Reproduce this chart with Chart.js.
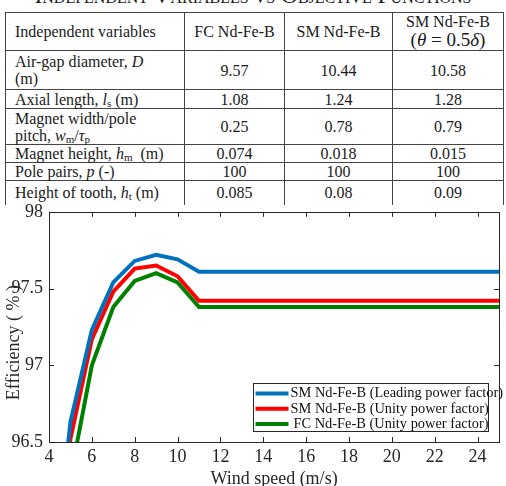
<!DOCTYPE html>
<html>
<head>
<meta charset="utf-8">
<script src="https://cdn.jsdelivr.net/npm/chart.js@4.4.1/dist/chart.umd.min.js"></script>
<style>
  html, body { margin: 0; padding: 0; background: #fff; }
  body { width: 506px; height: 486px; position: relative; overflow: hidden;
         font-family: "Liberation Serif", "Times New Roman", serif; color: #1a1a1a; }
  #caption { position: absolute; left: 0; top: -16px; width: 506px; text-align: center;
             font-size: 23.5px; line-height: 23.5px; font-variant: small-caps; }
  #params { position: absolute; left: 5px; top: 12px; border-collapse: collapse;
            table-layout: fixed; font-size: 16px; line-height: 17px; font-family: inherit; }
  #params td { border: 1px solid #444; padding: 0 9px; text-align: center; vertical-align: middle; }
  #params td.lbl { text-align: left; }
  #params tr.last td { border-bottom: none; }
  #params i { font-style: italic; }
  #params sub { font-size: 11px; vertical-align: -2px; line-height: 0; }
  .big { font-size: 19px; line-height: 20px; }
  #wrap { position: absolute; left: 0; top: 195px; width: 506px; height: 291px; }
</style>
</head>
<body>
<div id="caption">Independent Variables vs Objective Functions</div>
<table id="params">
  <colgroup><col style="width:179px"><col style="width:100px"><col style="width:108px"><col style="width:111px"></colgroup>
  <tr style="height:33px"><td class="lbl">Independent variables</td><td>FC Nd-Fe-B</td><td>SM Nd-Fe-B</td><td>SM Nd-Fe-B<br><span class="big">(<i>θ</i> = 0.5<i>δ</i>)</span></td></tr>
  <tr style="height:39px"><td class="lbl">Air-gap diameter, <i>D</i><br>(m)</td><td>9.57</td><td>10.44</td><td>10.58</td></tr>
  <tr style="height:19px"><td class="lbl">Axial length, <i>l</i><sub>s</sub> (m)</td><td>1.08</td><td>1.24</td><td>1.28</td></tr>
  <tr style="height:36px"><td class="lbl">Magnet width/pole<br>pitch, <i>w</i><sub>m</sub>/<i>τ</i><sub>p</sub></td><td>0.25</td><td>0.78</td><td>0.79</td></tr>
  <tr style="height:18px"><td class="lbl">Magnet height, <i>h</i><sub>m</sub> &nbsp;(m)</td><td>0.074</td><td>0.018</td><td>0.015</td></tr>
  <tr style="height:17px"><td class="lbl">Pole pairs, <i>p</i> (-)</td><td>100</td><td>100</td><td>100</td></tr>
  <tr class="last" style="height:24px"><td class="lbl">Height of tooth, <i>h</i><sub>t</sub> (m)</td><td>0.085</td><td>0.08</td><td>0.09</td></tr>
</table>
<div id="wrap"><canvas id="eff" width="506" height="291"></canvas></div>
<script>
// wind speed (m/s) and efficiency (%)
const windSpeed   = [4, 5, 6, 7, 8, 9, 10, 11, 25];
const smLeading   = [95.33, 96.63, 97.23, 97.54, 97.68, 97.72, 97.69, 97.61, 97.61];
const smUnity     = [95.2, 96.52, 97.17, 97.48, 97.63, 97.65, 97.58, 97.42, 97.42];
const fcUnity     = [95.0, 96.27, 97.0, 97.38, 97.55, 97.6, 97.54, 97.38, 97.38];
const seriesNames = ['SM Nd-Fe-B (Leading power factor)', 'SM Nd-Fe-B (Unity power factor)', 'FC Nd-Fe-B (Unity power factor)'];
const xTicks = [4, 6, 8, 10, 12, 14, 16, 18, 20, 22, 24];
const yTicks = [96.5, 97, 97.5, 98];

const serif = '"Liberation Serif", "Times New Roman", serif';
const ink = '#262626';

const pts = ys => windSpeed.map((x, i) => ({x: x, y: ys[i]}));

// box around the axes, ticks pointing inward, legend box at lower right
const framePlugin = {
    id: 'frame',
    afterDraw(chart) {
        const ctx = chart.ctx, a = chart.chartArea;
        const xs = chart.scales.x, ys = chart.scales.y;
        ctx.save();
        ctx.strokeStyle = ink;
        ctx.lineWidth = 1;
        ctx.strokeRect(Math.round(a.left) + 0.5, Math.round(a.top) + 0.5,
                       Math.round(a.right - a.left), Math.round(a.bottom - a.top));
        ctx.beginPath();
        xTicks.forEach(v => {
            const px = Math.round(xs.getPixelForValue(v)) + 0.5;
            ctx.moveTo(px, a.top); ctx.lineTo(px, a.top + 5);
            ctx.moveTo(px, a.bottom); ctx.lineTo(px, a.bottom - 5);
        });
        yTicks.forEach(v => {
            const py = Math.round(ys.getPixelForValue(v)) + 0.5;
            ctx.moveTo(a.left, py); ctx.lineTo(a.left + 5, py);
            ctx.moveTo(a.right, py); ctx.lineTo(a.right - 5, py);
        });
        ctx.stroke();

        // legend
        const bw = 235, bh = 48;
        const bx = Math.round(a.right - 11 - bw) + 0.5, by = Math.round(a.bottom - 11 - bh) + 0.5;
        ctx.fillStyle = '#fff';
        ctx.fillRect(bx, by, bw, bh);
        ctx.strokeRect(bx, by, bw, bh);
        ctx.font = '14.4px ' + serif;
        ctx.textBaseline = 'middle';
        ctx.textAlign = 'left';
        chart.data.datasets.forEach((ds, i) => {
            const cy = by + 10 + i * 15.3;
            ctx.strokeStyle = ds.borderColor;
            ctx.lineWidth = 4;
            ctx.beginPath();
            ctx.moveTo(bx + 2, cy); ctx.lineTo(bx + 35, cy);
            ctx.stroke();
            ctx.fillStyle = '#111';
            ctx.fillText(ds.label, bx + 37 + (i === 2 ? 3 : 0), cy);
        });
        ctx.restore();
    }
};

new Chart(document.getElementById('eff').getContext('2d'), {
    type: 'line',
    data: {
        datasets: [
            {label: seriesNames[0], data: pts(smLeading), borderColor: '#0072BD', borderWidth: 4, pointRadius: 0, tension: 0},
            {label: seriesNames[1], data: pts(smUnity),   borderColor: '#FF0000', borderWidth: 4, pointRadius: 0, tension: 0},
            {label: seriesNames[2], data: pts(fcUnity),   borderColor: '#008000', borderWidth: 4, pointRadius: 0, tension: 0}
        ]
    },
    options: {
        responsive: false,
        animation: false,
        devicePixelRatio: 1,
        layout: {padding: {top: 14, right: 7, left: 0, bottom: 0}},
        plugins: {legend: {display: false}, tooltip: {enabled: false}},
        scales: {
            x: {
                type: 'linear', min: 4, max: 25,
                afterBuildTicks: s => { s.ticks = xTicks.map(v => ({value: v})); },
                afterFit: s => { s.height = 44; },
                grid: {display: false, drawTicks: false},
                border: {display: false},
                ticks: {color: ink, padding: 4, font: {family: serif, size: 18}, callback: v => String(v)},
                title: {display: true, text: 'Wind speed (m/s)', color: ink,
                        font: {family: serif, size: 18}, padding: {top: 0, bottom: -4}}
            },
            y: {
                min: 96.5, max: 98,
                afterBuildTicks: s => { s.ticks = yTicks.map(v => ({value: v})); },
                afterFit: s => { s.width = 49; },
                grid: {display: false, drawTicks: false},
                border: {display: false},
                ticks: {color: ink, padding: 6, font: {family: serif, size: 18}, callback: v => String(v)},
                title: {display: true, text: 'Efficiency ( % )\u00a0\u00a0\u00a0\u00a0\u00a0\u00a0\u00a0', color: ink,
                        font: {family: serif, size: 18}, padding: {top: 3, bottom: 0}}
            }
        }
    },
    plugins: [framePlugin]
});
</script>
</body>
</html>
